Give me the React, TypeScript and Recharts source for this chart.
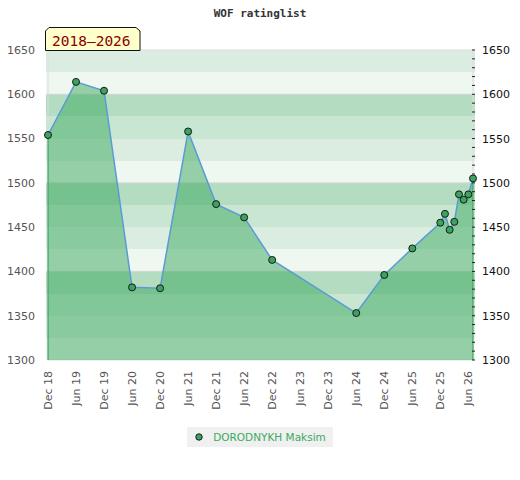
import { ComposedChart, Area, Line, XAxis, YAxis, CartesianGrid, ReferenceArea, ReferenceLine, Legend } from 'recharts';

const dates = [
  '2018-12', '2019-06', '2019-12', '2020-06', '2020-12', '2021-06', '2021-12', '2022-06', '2022-12',
  '2024-06', '2024-12', '2025-06', '2025-12', '2026-01', '2026-02', '2026-03', '2026-04', '2026-05',
  '2026-06', '2026-07',
];
const ratings = [
  1554, 1614, 1604, 1382, 1381, 1558, 1476, 1461, 1413,
  1353, 1396, 1426, 1455, 1465, 1447, 1456, 1487, 1481,
  1487, 1505,
];

const tickDates = [
  '2018-12', '2019-06', '2019-12', '2020-06', '2020-12', '2021-06', '2021-12', '2022-06',
  '2022-12', '2023-06', '2023-12', '2024-06', '2024-12', '2025-06', '2025-12', '2026-06',
];
const tickLabels = [
  'Dec 18', 'Jun 19', 'Dec 19', 'Jun 20', 'Dec 20', 'Jun 21', 'Dec 21', 'Jun 22',
  'Dec 22', 'Jun 23', 'Dec 23', 'Jun 24', 'Dec 24', 'Jun 25', 'Dec 25', 'Jun 26',
];
const leftTicks = [1300, 1350, 1400, 1450, 1500, 1550, 1600, 1650];
const rightTicks = [
  1300, 1310, 1320, 1330, 1340, 1350, 1360, 1370, 1380, 1390, 1400, 1410, 1420, 1430, 1440, 1450,
  1460, 1470, 1480, 1490, 1500, 1510, 1520, 1530, 1540, 1550, 1560, 1570, 1580, 1590, 1600, 1610,
  1620, 1630, 1640, 1650,
];
const bandEdges = [1325, 1350, 1375, 1400, 1425, 1450, 1475, 1500, 1525, 1550, 1575, 1600, 1625, 1650];
// stripe colours from the top down, repeating every 100
const bandColors = ['#dbede1', '#eff7f1', '#b3dcc0', '#c9e6d3'];
const gridValues = [1400, 1500, 1600];

const seriesName = 'DORODNYKH Maksim';
const title = 'WOF ratinglist';
const period = '2018–2026';

const toMonth = (s: string) => {
  const [y, m] = s.split('-').map(Number);
  return (y - 2018) * 12 + m - 1;
};

const data = dates.map((d, i) => ({ m: toMonth(d), rating: ratings[i] }));
const first = data[0];
const last = data[data.length - 1];
const tickValues = tickDates.map(toMonth);

const font = '"DejaVu Sans", sans-serif';

function XTick({ x, y, index }: any) {
  return (
    <text
      x={x}
      y={y}
      dy={4}
      transform={`rotate(-90, ${x}, ${y})`}
      textAnchor="end"
      fontSize={11}
      fontFamily={font}
      fill="#555"
    >
      {tickLabels[index]}
    </text>
  );
}

function RightTick({ x, y, payload }: any) {
  return (
    <g>
      <line x1={x - 3} x2={x} y1={y} y2={y} stroke="#222" />
      {payload.value % 50 === 0 && (
        <text x={x + 7} y={y} dy={4} fontSize={11} fontFamily={font} fill="#111">
          {payload.value}
        </text>
      )}
    </g>
  );
}

function LegendBox() {
  return (
    <div style={{ display: 'flex', justifyContent: 'center' }}>
      <div
        style={{
          background: '#f0f0f0',
          height: 20,
          display: 'flex',
          alignItems: 'center',
          padding: '0 7px 0 8px',
          fontFamily: font,
          fontSize: 10.5,
          color: '#3aaa5e',
        }}
      >
        <svg width={8} height={8} style={{ marginRight: 10 }}>
          <circle cx={4} cy={4} r={3.2} fill="#3aa35f" stroke="#1a1a1a" strokeWidth={1} />
        </svg>
        <span>{seriesName}</span>
      </div>
    </div>
  );
}

export default function App() {
  return (
    <div style={{ position: 'absolute', left: 0, top: 0, width: 520, height: 480, background: '#fff' }}>
      <ComposedChart width={520} height={480} data={data} margin={{ top: 50, right: 0, left: 0, bottom: 33 }}>
        <XAxis
          dataKey="m"
          type="number"
          domain={[first.m, last.m]}
          ticks={tickValues}
          interval={0}
          height={67}
          padding={{ left: 2, right: 2 }}
          tick={<XTick />}
          tickLine={false}
          axisLine={false}
          tickSize={0}
          tickMargin={11}
        />
        <YAxis
          yAxisId="left"
          orientation="left"
          width={46}
          type="number"
          domain={[1300, 1650]}
          ticks={leftTicks}
          interval={0}
          tick={{ fill: '#555', fontSize: 11, fontFamily: font }}
          axisLine={false}
          tickLine={false}
          tickSize={0}
          tickMargin={11}
        />
        <YAxis
          yAxisId="right"
          orientation="right"
          width={45}
          type="number"
          domain={[1300, 1650]}
          ticks={rightTicks}
          interval={0}
          tick={<RightTick />}
          axisLine={false}
          tickLine={false}
          tickSize={0}
          tickMargin={0}
        />
        <CartesianGrid
          yAxisId="left"
          vertical={false}
          horizontalValues={bandEdges}
          horizontalFill={bandColors}
          fillOpacity={1}
          stroke="none"
        />
        <CartesianGrid yAxisId="left" vertical={false} horizontalValues={gridValues} stroke="#d6d6d6" />
        <ReferenceArea yAxisId="left" y1={1300} y2={1650} fill="none" stroke="#dcdcdc" />
        <Area
          yAxisId="left"
          type="linear"
          dataKey="rating"
          fill="#39a85e"
          fillOpacity={0.5}
          stroke="none"
          dot={false}
          activeDot={false}
          legendType="none"
          isAnimationActive={false}
        />
        <ReferenceLine
          yAxisId="left"
          segment={[{ x: first.m, y: 1300 }, { x: first.m, y: first.rating }]}
          stroke="#2f9e4f"
        />
        <ReferenceLine
          yAxisId="left"
          segment={[{ x: last.m, y: 1300 }, { x: last.m, y: last.rating }]}
          stroke="#2f9e4f"
        />
        <Line
          yAxisId="right"
          type="linear"
          dataKey="rating"
          name={seriesName}
          stroke="#5b9bd5"
          strokeWidth={1.5}
          dot={{ r: 3.5, fill: '#3aa35f', stroke: '#1a1a1a', strokeWidth: 1 }}
          activeDot={false}
          isAnimationActive={false}
        />
        <Legend verticalAlign="bottom" height={20} content={<LegendBox />} />
      </ComposedChart>
      <svg
        width={520}
        height={480}
        style={{ position: 'absolute', left: 0, top: 0, pointerEvents: 'none' }}
      >
        <text
          x={260}
          y={17}
          textAnchor="middle"
          fontFamily='"DejaVu Sans Mono", monospace'
          fontWeight="bold"
          fontSize={11}
          fill="#333"
        >
          {title}
        </text>
        <g transform="translate(45, 27)">
          <polygon
            points="0.5,23.5 0.5,4 4,0.5 91,0.5 95,4 95,23.5"
            fill="#ffffcc"
            stroke="#111"
            strokeWidth={1}
          />
          <text x={7} y={18.5} fontFamily='"DejaVu Sans Mono", monospace' fontSize={14.5} fill="#8b0000">
            {period}
          </text>
        </g>
      </svg>
    </div>
  );
}
